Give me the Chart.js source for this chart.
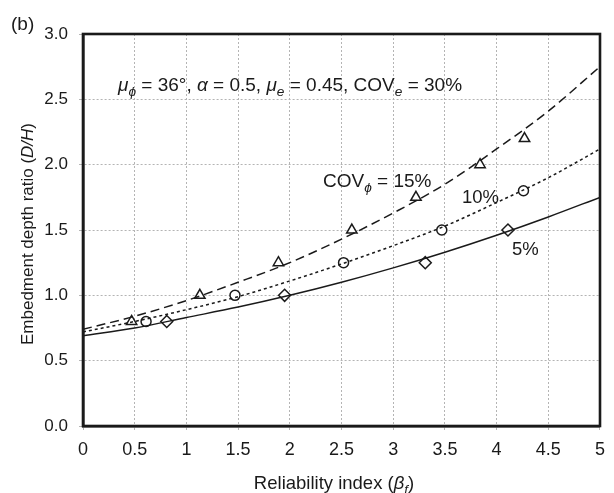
<!DOCTYPE html>
<html>
<head>
<meta charset="utf-8">
<script src="https://cdn.jsdelivr.net/npm/chart.js@4/dist/chart.umd.min.js"></script>
<style>
  html, body { margin: 0; padding: 0; background: #fff; }
  #wrap { width: 614px; height: 493px; }
</style>
</head>
<body>
<div id="wrap"><canvas id="depthChart" width="614" height="493"></canvas></div>
<script>
// reliability index grid for the fitted curves
const betaGrid = [0, 0.5, 1, 1.5, 2, 2.5, 3, 3.5, 4, 4.5, 5];
const fitCov5 = [0.69, 0.75, 0.83, 0.91, 1.0, 1.10, 1.21, 1.33, 1.46, 1.60, 1.75];
const fitCov10 = [0.72, 0.80, 0.89, 0.99, 1.11, 1.24, 1.38, 1.53, 1.71, 1.90, 2.12];
const fitCov15 = [0.74, 0.84, 0.96, 1.10, 1.25, 1.43, 1.63, 1.85, 2.12, 2.41, 2.75];

// computed points (beta, D/H)
const cov5Beta = [0.81, 1.95, 3.31, 4.11];
const cov5Ratio = [0.8, 1.0, 1.25, 1.5];
const cov10Beta = [0.61, 1.47, 2.52, 3.47, 4.26];
const cov10Ratio = [0.8, 1.0, 1.25, 1.5, 1.8];
const cov15Beta = [0.47, 1.13, 1.89, 2.6, 3.22, 3.84, 4.27];
const cov15Ratio = [0.8, 1.0, 1.25, 1.5, 1.75, 2.0, 2.2];

const xTicks = ['0', '0.5', '1', '1.5', '2', '2.5', '3', '3.5', '4', '4.5', '5'];

const FONT = '"Liberation Sans", Arial, sans-serif';
const INK = '#1a1a1a';

function pairs(xs, ys) {
    return xs.map((x, i) => ({ x: x, y: ys[i] }));
}

function curve(ys, dash) {
    return {
        type: 'line',
        data: pairs(betaGrid, ys),
        borderColor: INK,
        borderWidth: 1.5,
        borderDash: dash,
        pointRadius: 0,
        cubicInterpolationMode: 'monotone',
        fill: false
    };
}

function markers(xs, ys, style, r) {
    return {
        type: 'scatter',
        data: pairs(xs, ys),
        pointStyle: style,
        pointRadius: r,
        pointBackgroundColor: '#fff',
        pointBorderColor: INK,
        pointBorderWidth: 1.5,
        showLine: false
    };
}

// text with italic symbols and subscripts
function richWidth(ctx, segs, size) {
    let w = 0;
    segs.forEach(s => {
        const fs = s.sub ? size * 0.72 : size;
        ctx.font = (s.it ? 'italic ' : '') + fs + 'px ' + FONT;
        w += ctx.measureText(s.t).width;
    });
    return w;
}

function drawRich(ctx, x, y, segs, size) {
    let cx = x;
    segs.forEach(s => {
        const fs = s.sub ? size * 0.72 : size;
        ctx.font = (s.it ? 'italic ' : '') + fs + 'px ' + FONT;
        ctx.fillText(s.t, cx, y + (s.sub ? size * 0.28 : 0));
        cx += ctx.measureText(s.t).width;
    });
}

const annotations = {
    id: 'annotations',
    afterDraw(chart) {
        const ctx = chart.ctx;
        const a = chart.chartArea;
        ctx.save();

        // heavy frame around the plot
        ctx.strokeStyle = INK;
        ctx.lineWidth = 2.6;
        ctx.setLineDash([]);
        ctx.strokeRect(a.left, a.top, a.right - a.left, a.bottom - a.top);

        ctx.fillStyle = INK;
        ctx.textBaseline = 'alphabetic';
        ctx.textAlign = 'left';

        ctx.font = '19px ' + FONT;
        ctx.fillText('(b)', 11, 30);

        drawRich(ctx, 118, 91, [
            { t: 'μ', it: true }, { t: 'ϕ', it: true, sub: true }, { t: ' = 36°, ' },
            { t: 'α', it: true }, { t: ' = 0.5, ' },
            { t: 'μ', it: true }, { t: 'e', it: true, sub: true }, { t: ' = 0.45, COV' },
            { t: 'e', it: true, sub: true }, { t: ' = 30%' }
        ], 19);

        drawRich(ctx, 323, 187, [
            { t: 'COV' }, { t: 'ϕ', it: true, sub: true }, { t: ' = 15%' }
        ], 19);
        drawRich(ctx, 462, 203, [{ t: '10%' }], 18.5);
        drawRich(ctx, 512, 255, [{ t: '5%' }], 18.5);

        // axis titles
        const xTitle = [{ t: 'Reliability index (' }, { t: 'β', it: true }, { t: 'f', it: true, sub: true }, { t: ')' }];
        const xw = richWidth(ctx, xTitle, 18.5);
        drawRich(ctx, 334 - xw / 2, 489, xTitle, 18.5);

        const yTitle = [{ t: 'Embedment depth ratio (' }, { t: 'D/H', it: true }, { t: ')' }];
        const yw = richWidth(ctx, yTitle, 17);
        ctx.translate(33, 234);
        ctx.rotate(-Math.PI / 2);
        drawRich(ctx, -yw / 2, 0, yTitle, 17);

        ctx.restore();
    }
};

const gridStyle = {
    color: '#b4b4b4',
    lineWidth: 1,
    tickLength: 4,
    drawTicks: true,
    tickColor: '#b4b4b4'
};

new Chart(document.getElementById('depthChart'), {
    data: {
        datasets: [
            curve(fitCov15, [9, 5]),
            curve(fitCov10, [3, 3]),
            curve(fitCov5, []),
            markers(cov15Beta, cov15Ratio, 'triangle', 6),
            markers(cov10Beta, cov10Ratio, 'circle', 5),
            markers(cov5Beta, cov5Ratio, 'rectRot', 6)
        ]
    },
    options: {
        responsive: false,
        animation: false,
        layout: { padding: { left: 0, top: 34, right: 4, bottom: 0 } },
        plugins: {
            legend: { display: false },
            tooltip: { enabled: false }
        },
        scales: {
            x: {
                type: 'linear',
                min: 0,
                max: 5,
                afterFit(scale) { scale.height = 67; },
                afterBuildTicks(scale) {
                    scale.ticks = xTicks.map(t => ({ value: parseFloat(t) }));
                },
                ticks: {
                    color: INK,
                    font: { family: FONT, size: 18 },
                    padding: 9,
                    maxRotation: 0,
                    callback: (v, i) => xTicks[i]
                },
                grid: gridStyle,
                // border.dash sets the dotted grid lines
                border: { display: true, color: INK, width: 2.6, dash: [2, 2] }
            },
            y: {
                type: 'linear',
                min: 0,
                max: 3,
                afterFit(scale) { scale.width = 83; },
                ticks: {
                    stepSize: 0.5,
                    color: INK,
                    font: { family: FONT, size: 17 },
                    padding: 11,
                    callback: v => v.toFixed(1)
                },
                grid: gridStyle,
                border: { display: true, color: INK, width: 2.6, dash: [2, 2] }
            }
        }
    },
    plugins: [annotations]
});
</script>
</body>
</html>
